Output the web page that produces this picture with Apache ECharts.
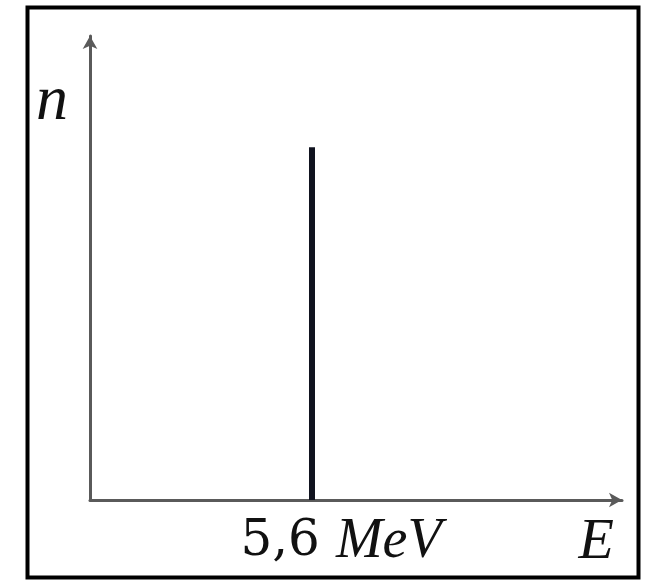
<!DOCTYPE html>
<html><head><meta charset="utf-8">
<script src="https://cdn.jsdelivr.net/npm/echarts@6/dist/echarts.min.js"></script>
<style>html,body{margin:0;padding:0;background:#fff}#c{width:648px;height:580px}</style>
</head><body><div id="c"></div>
<script>
const energies = [5.6];
const counts = [0.76];
const xTickValues = [5.6];
const xTickLabel = '{a|5,6}{b|MeV}';
const xName = 'E';
const yName = 'n';

const chart = echarts.init(document.getElementById('c'));
chart.setOption({
  animation: false,
  backgroundColor: '#fff',
  grid: {left: 90, right: 26, top: 36, bottom: 80},
  xAxis: {
    type: 'value', min: 0, max: 13.42,
    splitLine: {show: false}, axisTick: {show: false},
    axisLine: {lineStyle: {color: '#5a5a5a', width: 3}, symbol: ['none', 'arrow'], symbolSize: [11, 13]},
    axisLabel: {
      customValues: xTickValues, formatter: () => xTickLabel, margin: 14,
      rich: {
        a: {fontFamily: 'DejaVu Serif', fontSize: 50, color: '#111', padding: [0,0,0,58]},
        b: {fontFamily: 'Liberation Serif', fontStyle: 'italic', fontSize: 56, color: '#111', padding: [0,0,0,16]}
      }
    },
    name: xName, nameLocation: 'end', nameGap: -8,
    nameTextStyle: {fontFamily: 'Liberation Serif', fontStyle: 'italic', fontSize: 58, color: '#111', align: 'right', verticalAlign: 'top', padding: [14,0,0,0]}
  },
  yAxis: {
    type: 'value', min: 0, max: 1,
    splitLine: {show: false}, axisTick: {show: false}, axisLabel: {show: false},
    axisLine: {lineStyle: {color: '#5a5a5a', width: 3}, symbol: ['none', 'arrow'], symbolSize: [11, 13]},
    name: yName, nameLocation: 'end', nameGap: -98,
    nameTextStyle: {fontFamily: 'Liberation Serif', fontStyle: 'italic', fontSize: 64, color: '#111', align: 'right', padding: [0, 22, 0, 0]}
  },
  series: [{
    type: 'bar', barWidth: 6,
    data: energies.map((e, i) => [e, counts[i]]),
    itemStyle: {color: '#10131f'}
  }],
  graphic: [{
    type: 'rect', silent: true,
    shape: {x: 27.5, y: 7.5, width: 611, height: 570},
    style: {fill: 'none', stroke: '#000', lineWidth: 4}
  }]
});
</script></body></html>
